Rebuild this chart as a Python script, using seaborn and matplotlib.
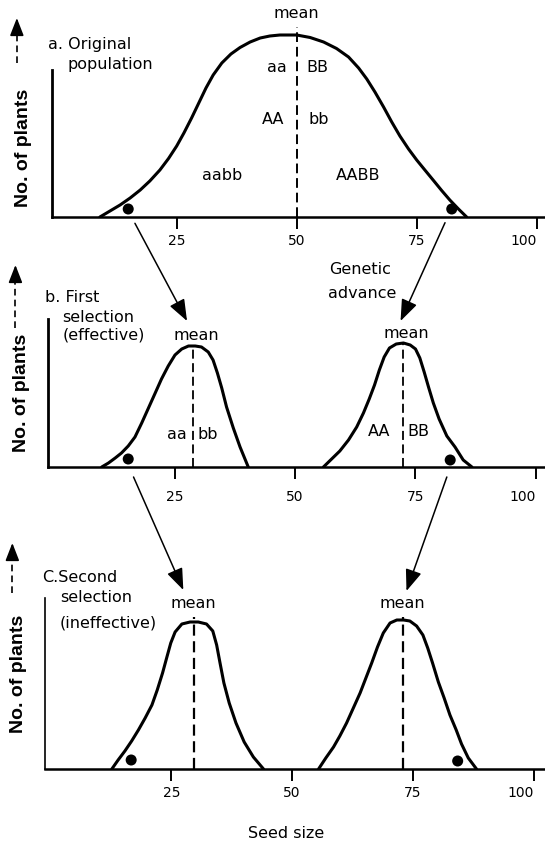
import matplotlib

matplotlib.use("Agg")
import matplotlib.pyplot as plt
import seaborn as sns
from matplotlib.patches import ConnectionPatch

FIG_W, FIG_H, DPI = 545, 843, 100

# seed size axis
TICKS = [25, 50, 75, 100]

# a. original population
CURVE_A_X = [9.0, 11.1, 13.2, 15.3, 17.4, 19.4, 21.5, 23.3, 25.0, 26.5, 28.1, 29.7,
             31.1, 32.6, 34.4, 36.3, 38.2, 40.3, 42.4, 44.4, 46.5, 47.2, 50.0, 52.8,
             55.6, 58.3, 60.8, 62.9, 64.6, 66.3, 68.1, 69.8, 71.5, 73.3, 75.0, 76.7,
             78.5, 80.2, 81.9, 83.7, 85.4]
CURVE_A_Y = [0, 6, 12, 19, 27, 36, 47, 58.5, 71, 84, 99, 115,
             129, 142, 154, 163, 169.5, 175, 179, 181, 182, 182, 182, 179.5,
             175, 168.5, 160, 149, 138, 125, 110, 95, 81, 68, 57, 47,
             36.5, 26.5, 17, 8, 0]
DOTS_A_X = [14.9, 82.3]
DOTS_A_Y = [8, 8]
MEANS_A = [50.0]
MEAN_TOPS_A = [190]

# b. first selection (effective)
CURVE_B1_X = [9.9, 11.3, 12.7, 14.0, 15.4, 16.8, 18.2, 19.6, 21.0, 22.3, 23.7, 25.1,
              26.5, 27.9, 29.3, 30.6, 32.0, 33.0, 33.9, 34.8, 35.8, 37.2, 38.6, 40.3]
CURVE_B1_Y = [0, 4, 9, 14, 21, 30, 44, 59, 74, 88, 101, 112,
              118, 121, 121, 120, 115, 107, 94, 79, 60, 39, 20, 0]
CURVE_B2_X = [55.9, 57.6, 59.3, 61.1, 62.8, 64.2, 65.4, 66.5, 67.5, 68.5, 69.6, 71.0,
              72.5, 73.9, 75.0, 75.9, 76.8, 77.7, 78.7, 79.9, 81.5, 83.2, 84.9, 86.7]
CURVE_B2_Y = [0, 8, 16, 27, 40, 54, 68, 82, 97, 110, 119, 123,
              124, 122, 118, 109, 95, 80, 64, 48, 31, 20, 7, 0]
DOTS_B_X = [15.4, 82.2]
DOTS_B_Y = [8, 7]
MEANS_B = [28.9, 72.5]
MEAN_TOPS_B = [122, 125]

# c. second selection (ineffective)
CURVE_C1_X = [12.7, 14.0, 15.4, 16.8, 18.2, 19.6, 21.0, 22.1, 23.2, 24.1, 24.9, 25.8,
              27.2, 28.9, 30.6, 32.3, 33.6, 34.4, 35.1, 35.9, 37.0, 38.4, 40.1, 42.0, 44.1]
CURVE_C1_Y = [0, 9, 18, 28, 39, 51, 64, 79, 96, 112, 126, 137,
              145, 147, 147, 145, 138, 124, 106, 86, 66, 46, 27, 12, 0]
CURVE_C2_X = [55.5, 57.0, 58.6, 59.9, 61.3, 62.7, 64.1, 65.3, 66.5, 67.7, 68.9, 70.3,
              71.7, 73.1, 74.4, 75.8, 77.1, 78.1, 79.1, 80.3, 81.5, 82.7, 84.0, 85.1,
              86.5, 88.2]
CURVE_C2_Y = [0, 11, 22, 33, 46, 61, 76, 91, 106, 122, 136, 146,
              149, 149, 148, 143, 134, 121, 106, 87, 71, 54, 39, 25,
              11, 0]
DOTS_C_X = [16.7, 84.3]
DOTS_C_Y = [9, 8]
MEANS_C = [29.8, 73.0]
MEAN_TOPS_C = [152, 152]

TEXT_FONT = "DejaVu Sans"
LABEL_FONT = "Liberation Sans"


def add_panel(fig, left_px, bottom_px, top_px, zero_px, px_per_unit):
    # axes placed in pixels so that one y unit equals one pixel
    ax = fig.add_axes([
        left_px / FIG_W,
        1 - bottom_px / FIG_H,
        (FIG_W - left_px) / FIG_W,
        (bottom_px - top_px) / FIG_H,
    ])
    ax.set_xlim((left_px - zero_px) / px_per_unit, (FIG_W - zero_px) / px_per_unit)
    ax.set_ylim(0, bottom_px - top_px)
    ax.patch.set_alpha(0)
    return ax


def style_panel(ax, spine_top, spine_lw, label_pad):
    sns.despine(ax=ax, top=True, right=True)
    ax.spines["left"].set_bounds(0, spine_top)
    ax.spines["left"].set_linewidth(spine_lw)
    ax.spines["bottom"].set_linewidth(1.8)
    ax.set_yticks([])
    ax.set_xticks(TICKS)
    labels = ax.set_xticklabels([str(t) for t in TICKS], fontsize=10, family=TEXT_FONT,
                                color="black")
    labels[-1].set_horizontalalignment("right")
    ax.tick_params(axis="x", direction="out", length=8.6, width=1.4, pad=label_pad,
                   bottom=True, color="black")
    ax.set_xlabel("")
    ax.set_ylabel("")


def draw_curves(ax, curves, dots_x, dots_y, means, tops, mean_lw):
    for xs, ys in curves:
        sns.lineplot(x=xs, y=ys, ax=ax, color="black", linewidth=2.2, sort=False,
                     estimator=None, solid_joinstyle="round", solid_capstyle="round")
    sns.scatterplot(x=dots_x, y=dots_y, ax=ax, color="black", s=63, edgecolor="none")
    ax.vlines(means, 0, tops, colors="black", linewidth=mean_lw,
              linestyles=(0, (5, 2.5)))


def y_arrow(ax, x, shaft_bottom, head_base, tip, label_xy):
    ax.plot([x, x], [shaft_bottom, head_base], color="black", linewidth=1.2,
            linestyle=(0, (4, 2.5)), clip_on=False)
    ax.annotate("", xy=(x, tip), xytext=(x, head_base),
                arrowprops=dict(arrowstyle="-|>,head_length=0.9,head_width=0.35",
                                color="black", lw=1.2, shrinkA=0, shrinkB=0),
                annotation_clip=False)
    ax.text(label_xy[0], label_xy[1], "No. of plants", rotation=90, ha="center",
            va="center", fontsize=14, fontweight="bold", family=LABEL_FONT,
            color="black", clip_on=False)


def put(ax, x, y, s, ha="center", size=11.5):
    ax.text(x, y, s, ha=ha, va="center", fontsize=size, family=TEXT_FONT,
            color="black", clip_on=False)


def connect(fig, ax_from, xy_from, ax_to, xy_to):
    arrow = ConnectionPatch(
        xyA=xy_from, coordsA=ax_from.transData,
        xyB=xy_to, coordsB=ax_to.transData,
        arrowstyle="-|>,head_length=1.1,head_width=0.42", mutation_scale=12,
        color="black", lw=1.1,
    )
    fig.add_artist(arrow)


def main() -> None:
    sns.set_theme(style="white")
    plt.rcParams["font.family"] = [TEXT_FONT]
    plt.rcParams["text.color"] = "black"
    plt.rcParams["axes.edgecolor"] = "black"
    plt.rcParams["xtick.color"] = "black"

    fig = plt.figure(figsize=(FIG_W / DPI, FIG_H / DPI), dpi=DPI)
    fig.patch.set_facecolor("white")

    ax_a = add_panel(fig, 52, 217, 5, 56.7, 4.8)
    ax_b = add_panel(fig, 48, 467, 255, 54, 4.82)
    ax_c = add_panel(fig, 45, 769, 540, 50.5, 4.83)

    # panel a
    draw_curves(ax_a, [(CURVE_A_X, CURVE_A_Y)], DOTS_A_X, DOTS_A_Y, MEANS_A, MEAN_TOPS_A, 1.4)
    style_panel(ax_a, 147, 2.0, 3.7)
    put(ax_a, 49.9, 203, "mean")
    put(ax_a, -1.9, 172, "a. Original", ha="left")
    put(ax_a, 2.35, 152, "population", ha="left")
    put(ax_a, 45.8, 149, "aa")
    put(ax_a, 54.4, 150, "BB")
    put(ax_a, 45.1, 98, "AA")
    put(ax_a, 54.5, 98, "bb")
    put(ax_a, 34.5, 41.5, "aabb")
    put(ax_a, 62.9, 42, "AABB")
    put(ax_a, 63.2, -52, "Genetic")
    put(ax_a, 63.6, -77, "advance")
    y_arrow(ax_a, -8.3, 154, 186, 199, (-6.9, 69))

    # panel b
    draw_curves(ax_b, [(CURVE_B1_X, CURVE_B1_Y), (CURVE_B2_X, CURVE_B2_Y)],
                DOTS_B_X, DOTS_B_Y, MEANS_B, MEAN_TOPS_B, 1.3)
    style_panel(ax_b, 148, 2.0, 8.3)
    put(ax_b, -1.97, 170, "b. First", ha="left")
    put(ax_b, 1.78, 150, "selection", ha="left")
    put(ax_b, 1.78, 132, "(effective)", ha="left")
    put(ax_b, 29.6, 132, "mean")
    put(ax_b, 73.0, 133, "mean")
    put(ax_b, 25.5, 32.5, "aa")
    put(ax_b, 31.8, 32.5, "bb")
    put(ax_b, 67.5, 36, "AA")
    put(ax_b, 75.7, 36, "BB")
    y_arrow(ax_b, -8.0, 139, 188, 202, (-6.8, 74))

    # panel c
    draw_curves(ax_c, [(CURVE_C1_X, CURVE_C1_Y), (CURVE_C2_X, CURVE_C2_Y)],
                DOTS_C_X, DOTS_C_Y, MEANS_C, MEAN_TOPS_C, 1.6)
    style_panel(ax_c, 171, 1.2, 3.7)
    put(ax_c, -1.82, 192, "C.Second", ha="left")
    put(ax_c, 1.97, 171, "selection", ha="left")
    put(ax_c, 1.97, 146, "(ineffective)", ha="left")
    put(ax_c, 29.6, 165, "mean")
    put(ax_c, 72.9, 165, "mean")
    put(ax_c, 48.8, -64, "Seed size")
    y_arrow(ax_c, -7.9, 176, 213, 226, (-6.6, 95))

    # selection arrows between the panels
    connect(fig, ax_a, (16.3, -6.3), ax_b, (27.6, 146))
    connect(fig, ax_a, (80.9, -5.7), ax_b, (71.9, 146))
    connect(fig, ax_b, (16.5, -10), ax_c, (27.5, 179))
    connect(fig, ax_b, (81.5, -10), ax_c, (73.7, 178))

    fig.savefig("out.png", dpi=DPI, facecolor="white")
    plt.close(fig)


if __name__ == "__main__":
    main()
